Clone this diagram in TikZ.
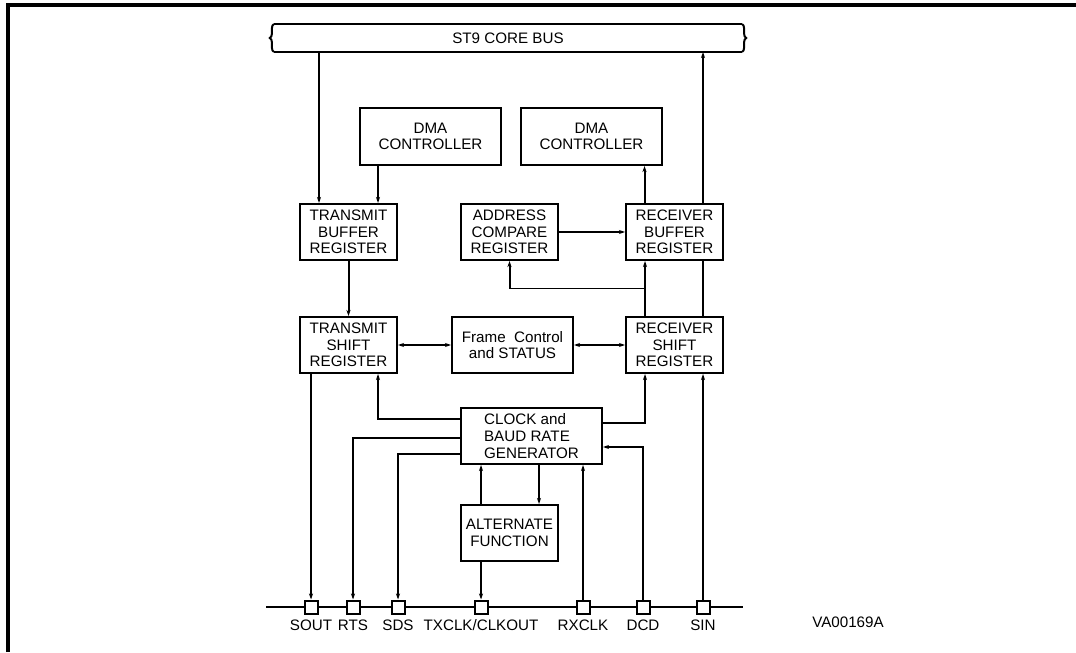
\documentclass[tikz,border=0pt]{standalone}
\usepackage{fontspec}
\setmainfont{Liberation Sans}
\usetikzlibrary{arrows.meta,calc,decorations.pathreplacing}

\begin{document}
\begin{tikzpicture}[font=\fontsize{10.8}{11.8}\selectfont,
  line width=1.42pt,
  blk/.style={draw, line width=1.42pt, align=center, inner sep=1pt},
  reg/.style={blk, minimum width=2.425cm, minimum height=1.4cm},
  wide/.style={blk, minimum width=3.525cm, minimum height=1.425cm},
  arr/.style={-{Stealth[length=1.5mm, width=1mm]}},
  darr/.style={{Stealth[length=1.5mm, width=1mm]}-{Stealth[length=1.5mm, width=1mm]}},
  pin/.style={draw, fill=white, line width=1.42pt, minimum size=0.325cm, inner sep=0pt},
  pinlab/.style={inner sep=1pt, text height=1.6ex, text depth=0pt},
  brc/.style={decorate, decoration={brace, amplitude=3pt}}]
\useasboundingbox (0,0) rectangle (26.9,16.3);
% ---- page frame ----
\draw[line width=2.2pt] (0.2,0) -- (0.2,16.175) -- (26.9,16.175);
% ---- core bus ----
\node[minimum width=11.65cm, minimum height=0.65cm, inner sep=0pt] (bus) at (12.7,15.35) {ST9 CORE BUS};
\draw (bus.north west) -- (bus.north east) (bus.south west) -- (bus.south east);
\draw[brc] (bus.south west) -- (bus.north west);
\draw[brc] (bus.north east) -- (bus.south east);
% ---- blocks ----
\node[wide] (dmal) at (10.7625,12.8875) {DMA\\CONTROLLER};
\node[wide] (dmar) at (14.7875,12.8875) {DMA\\CONTROLLER};
\node[reg] (tbr) at (8.7125,10.5) {TRANSMIT\\BUFFER\\REGISTER};
\node[reg] (acr) at (12.7375,10.5) {ADDRESS\\COMPARE\\REGISTER};
\node[reg] (rbr) at (16.8625,10.5) {RECEIVER\\BUFFER\\REGISTER};
\node[reg] (tsr) at (8.7125,7.675) {TRANSMIT\\SHIFT\\REGISTER};
\node[reg, minimum width=3.025cm] (frm) at (12.8125,7.675) {Frame\ \ Control\\and STATUS};
\node[reg] (rsr) at (16.8625,7.675) {RECEIVER\\SHIFT\\REGISTER};
\node[wide, minimum height=1.4cm, align=left] (clk) at (13.2875,5.4) {CLOCK and\\BAUD RATE\\GENERATOR};
\node[reg] (af) at (12.7375,2.975) {ALTERNATE\\FUNCTION};
% ---- pins ----
\coordinate (pl) at (6.65,1.125);
\coordinate (pr) at (18.575,1.125);
\draw (pl) -- (pr);
\node[pin, label={[pinlab, label distance=1pt]below:SOUT}] (sout) at (7.775,1.125) {};
\node[pin, label={[pinlab, label distance=1pt]below:RTS}] (rts) at (8.825,1.125) {};
\node[pin, label={[pinlab, label distance=1pt]below:SDS}] (sds) at (9.95,1.125) {};
\node[pin, label={[pinlab, label distance=1pt]below:TXCLK/CLKOUT}] (txclk) at (12.025,1.125) {};
\node[pin, label={[pinlab, label distance=1pt]below:RXCLK}] (rxclk) at (14.575,1.125) {};
\node[pin, label={[pinlab, label distance=1pt]below:DCD}] (dcd) at (16.075,1.125) {};
\node[pin, label={[pinlab, label distance=1pt]below:SIN}] (sin) at (17.575,1.125) {};
\node (code) at (21.2,0.75) {VA00169A};
% ---- transmit side ----
\coordinate (txin) at ($(tbr.north)+(-0.7375,0)$);
\coordinate (dmain) at ($(tbr.north)+(0.7375,0)$);
\draw[arr] (bus.south -| txin) -- (txin);
\draw[arr] (dmal.south -| dmain) -- (dmain);
\draw[arr] (tbr) -- (tsr);
\draw[arr] (tsr.south -| sout) -- (sout);
% ---- receive side ----
\coordinate (rbrout) at ($(rbr.north)+(-0.75,0)$);
\coordinate (rsrup) at ($(rsr.north)+(-0.7375,0)$);
\draw[arr] (rbrout) -- (dmar.south -| rbrout);
\draw (rsr.north -| sin) -- (rbr.south -| sin);
\draw[arr] (rbr.north -| sin) -- (bus.south -| sin);
\draw[arr] (acr) -- (rbr);
\draw[arr] (rsrup) -- (rbr.south -| rsrup);
\draw[arr] ($(rsrup)!0.5!(rbr.south -| rsrup)$) -| (acr.south);
\draw[arr] (sin) -- (sin |- rsr.south);
% ---- frame control ----
\draw[darr] (tsr) -- (frm);
\draw[darr] (frm) -- (rsr);
% ---- clock and baud rate ----
\draw[arr] ([yshift=0.425cm]clk.west) -| ([xshift=0.7375cm]tsr.south);
\draw[arr] ([yshift=-0.05cm]clk.west) -| (rts);
\draw[arr] ([yshift=-0.45cm]clk.west) -| (sds);
\draw[arr] ([yshift=0.325cm]clk.east) -| ([xshift=-0.7375cm]rsr.south);
\draw[arr] (dcd) |- ([yshift=-0.275cm]clk.east);
\draw[arr] (rxclk) -- (rxclk |- clk.south);
% ---- alternate function ----
\coordinate (afin) at ($(af.north)+(0.7375,0)$);
\draw[arr] (af.north -| txclk) -- (clk.south -| txclk);
\draw[arr] (clk.south -| afin) -- (afin);
\draw[arr] (af.south -| txclk) -- (txclk);
\end{tikzpicture}
\end{document}
